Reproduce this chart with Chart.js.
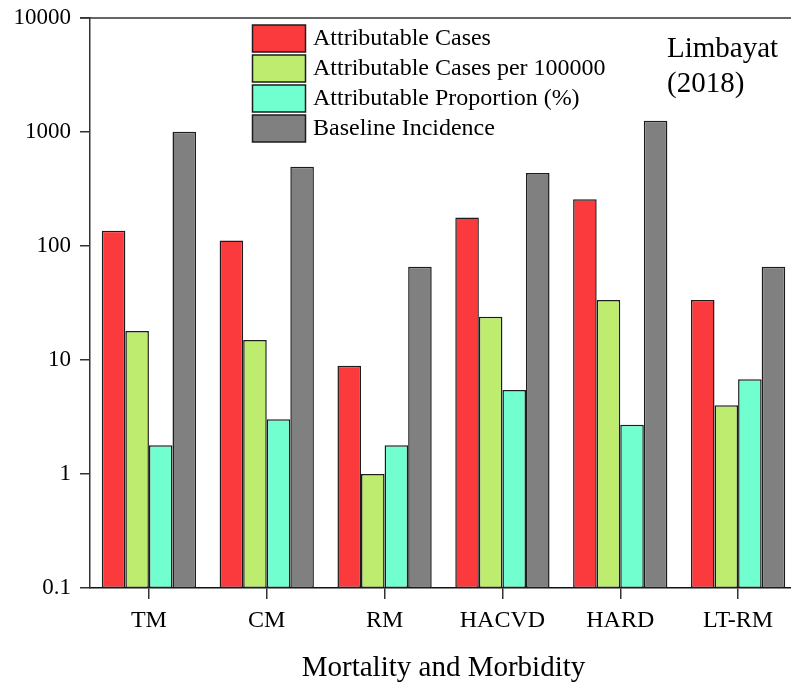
<!DOCTYPE html>
<html>
<head>
<meta charset="utf-8">
<script src="https://cdn.jsdelivr.net/npm/chart.js@4.4.1/dist/chart.umd.min.js"></script>
<style>
  html, body { margin: 0; padding: 0; background: #fff; overflow: hidden; }
  #wrap { position: absolute; left: 0; top: 0; width: 800px; height: 688px; }
</style>
</head>
<body>
<div id="wrap"><canvas id="chart" width="800" height="688"></canvas></div>
<script>
const categories = ['TM', 'CM', 'RM', 'HACVD', 'HARD', 'LT-RM'];
const attributableCases = [136, 112, 8.9, 178, 257, 33.6];
const casesPer100000 = [18, 15, 1.0, 24, 33.6, 4.0];
const attributableProportion = [1.79, 3.02, 1.79, 5.46, 2.71, 6.77];
const baselineIncidence = [1007, 496, 65.8, 437, 1257, 65.8];
const yTicks = [0.1, 1, 10, 100, 1000, 10000];

const serif = '"Liberation Serif", "Times New Roman", serif';
const edge = '#1c1c1c';

function bar(label, data, color) {
  return {
    label: label,
    data: data,
    backgroundColor: color,
    borderColor: edge,
    borderWidth: 1.5,
    borderSkipped: false,
    categoryPercentage: 0.8,
    barPercentage: 1.0,
  };
}

// top frame line, legend box and the place label
const extras = {
  id: 'extras',
  afterDraw(chart) {
    const { ctx, chartArea } = chart;
    ctx.save();
    ctx.strokeStyle = '#333';
    ctx.lineWidth = 1.5;
    ctx.beginPath();
    ctx.moveTo(chartArea.left - 10, chartArea.top);
    ctx.lineTo(chart.width, chartArea.top);
    ctx.stroke();

    ctx.font = '24px ' + serif;
    ctx.textBaseline = 'middle';
    ctx.textAlign = 'left';
    chart.data.datasets.forEach((ds, i) => {
      const y = 25 + i * 30;
      ctx.fillStyle = ds.backgroundColor;
      ctx.fillRect(252.5, y, 53, 27);
      ctx.strokeStyle = edge;
      ctx.lineWidth = 1.5;
      ctx.strokeRect(252.5, y, 53, 27);
      ctx.fillStyle = '#000';
      ctx.fillText(ds.label, 313, y + 14);
    });

    ctx.font = '29px ' + serif;
    ctx.textBaseline = 'alphabetic';
    ctx.fillText('Limbayat', 667, 57);
    ctx.fillText('(2018)', 667, 92);
    ctx.restore();
  },
};

new Chart(document.getElementById('chart'), {
  type: 'bar',
  data: {
    labels: categories,
    datasets: [
      bar('Attributable Cases', attributableCases, '#fb3a3e'),
      bar('Attributable Cases per 100000', casesPer100000, '#bdec6f'),
      bar('Attributable Proportion (%)', attributableProportion, '#71ffd0'),
      bar('Baseline Incidence', baselineIncidence, '#808080'),
    ],
  },
  options: {
    responsive: false,
    animation: false,
    devicePixelRatio: 1,
    layout: { padding: { top: 18, right: 3, left: 0, bottom: 0 } },
    plugins: { legend: { display: false }, tooltip: { enabled: false } },
    scales: {
      x: {
        afterFit: (s) => { s.height = 100; s.paddingLeft = 0; s.paddingRight = 0; },
        grid: { offset: false, drawOnChartArea: false, tickLength: 11, color: '#333', lineWidth: 1.5 },
        border: { color: '#111', width: 1.5 },
        ticks: { color: '#000', padding: 7, font: { family: serif, size: 24 } },
        title: {
          display: true,
          text: 'Mortality and Morbidity',
          color: '#000',
          padding: { top: 0, bottom: 2 },
          font: { family: serif, size: 29 },
        },
      },
      y: {
        type: 'logarithmic',
        min: 0.1,
        max: 10000,
        afterFit: (s) => { s.width = 90; s.paddingTop = 0; s.paddingBottom = 0; },
        afterBuildTicks: (s) => { s.ticks = yTicks.map((v) => ({ value: v })); },
        grid: { drawOnChartArea: false, tickLength: 10, color: '#333', lineWidth: 1.5 },
        border: { color: '#333', width: 1.5 },
        ticks: {
          color: '#000',
          padding: 9,
          font: { family: serif, size: 23 },
          callback: (v) => String(v),
        },
      },
    },
  },
  plugins: [extras],
});
</script>
</body>
</html>
